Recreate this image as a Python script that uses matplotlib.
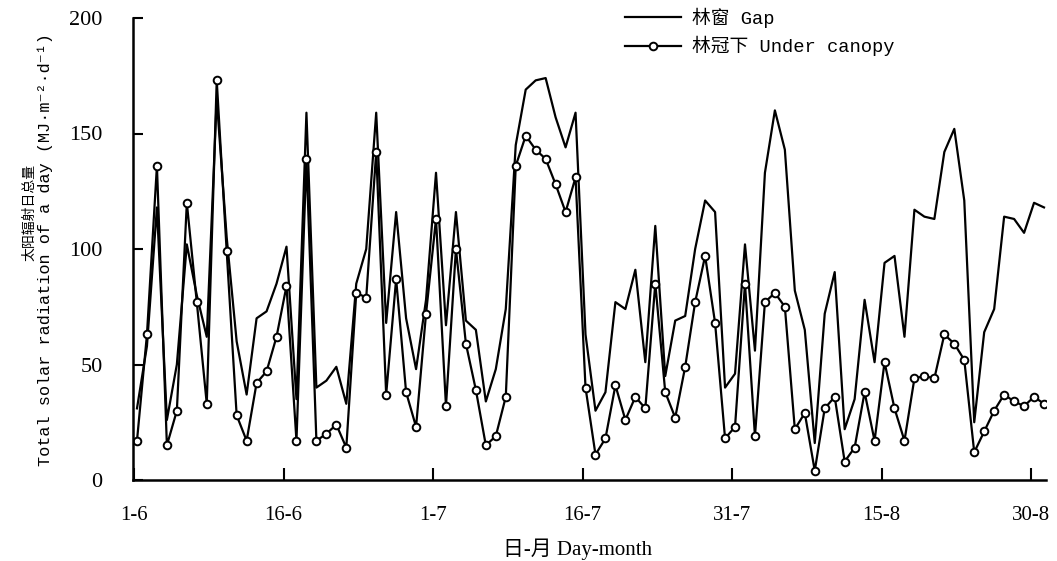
import numpy as np
import matplotlib
matplotlib.use('Agg')
import matplotlib.pyplot as plt

# Daily total solar radiation, 1 June - 31 August
gap = [31, 58, 118, 26, 50, 102, 80, 62, 165, 105, 60, 37, 70, 73, 85, 101,
       35, 159, 40, 43, 49, 33, 85, 100, 159, 68, 116, 70, 48, 78, 133, 67,
       116, 69, 65, 34, 48, 74, 145, 169, 173, 174, 157, 144, 159, 63, 30, 38,
       77, 74, 91, 51, 110, 45, 69, 71, 100, 121, 116, 40, 46, 102, 56, 133,
       160, 143, 82, 65, 16, 72, 90, 22, 35, 78, 51, 94, 97, 62, 117, 114,
       113, 142, 152, 121, 25, 64, 74, 114, 113, 107, 120, 118]
canopy = [17, 63, 136, 15, 30, 120, 77, 33, 173, 99, 28, 17, 42, 47, 62, 84,
          17, 139, 17, 20, 24, 14, 81, 79, 142, 37, 87, 38, 23, 72, 113, 32,
          100, 59, 39, 15, 19, 36, 136, 149, 143, 139, 128, 116, 131, 40, 11, 18,
          41, 26, 36, 31, 85, 38, 27, 49, 77, 97, 68, 18, 23, 85, 19, 77,
          81, 75, 22, 29, 4, 31, 36, 8, 14, 38, 17, 51, 31, 17, 44, 45,
          44, 63, 59, 52, 12, 21, 30, 37, 34, 32, 36, 33]
tick_labels = ['1-6', '16-6', '1-7', '16-7', '31-7', '15-8', '30-8']

days = np.arange(len(gap))
mono = ['Liberation Mono', 'DejaVu Sans', 'Noto Sans CJK SC']
serif = ['Liberation Serif', 'DejaVu Serif']

fig = plt.figure(figsize=(10.57, 5.61), dpi=100)
ax = fig.add_axes([133/1057, 1-480/561, (1046-133)/1057, (480-18)/561])

ax.plot(days, gap, color='black', lw=1.6, label='林窗 Gap')
ax.plot(days, canopy, color='black', lw=1.6, marker='o', ms=5.5,
        mfc='white', mec='black', mew=1.4, label='林冠下 Under canopy')

ax.set_ylim(0, 200)
ax.set_xlim(-0.4, 91.2)
ax.set_yticks([0, 50, 100, 150, 200])
ax.set_xticks(np.arange(7)*15 - 0.3)
ax.set_xticklabels(tick_labels)

for s in ['top', 'right']:
    ax.spines[s].set_visible(False)
for s in ['left', 'bottom']:
    ax.spines[s].set_linewidth(1.8)

ax.tick_params(axis='y', direction='in', length=7, width=1.5, pad=22, labelsize=16)
ax.tick_params(axis='x', direction='in', length=9, width=1.5, pad=19, labelsize=15)
for lab in ax.get_xticklabels() + ax.get_yticklabels():
    lab.set_family(serif)

fig.text(578/1057, 1-549/561, '日-月 Day-month', ha='center', va='center',
         fontsize=15, family=['Liberation Serif', 'Noto Sans CJK SC'])
fig.text(29/1057, 1-212/561, '太阳辐射日总量', rotation=90, ha='center', va='center',
         fontsize=10, family=['Noto Sans CJK SC'])
fig.text(45/1057, 1-250/561, 'Total solar radiation of a day (MJ·m⁻²·d⁻¹)',
         rotation=90, ha='center', va='center', fontsize=12.2, family=mono)

leg = fig.legend(loc='upper left', bbox_to_anchor=(617/1057, 1.0), frameon=False,
                 borderaxespad=0.0, handlelength=3.0, handletextpad=0.6,
                 labelspacing=0.45, prop={'family': mono, 'size': 13.5})

fig.savefig('out.png', dpi=100)
